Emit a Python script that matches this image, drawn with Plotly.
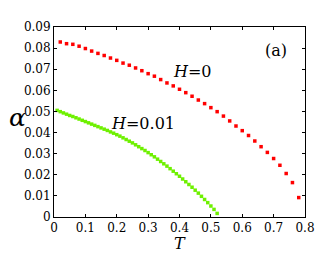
import plotly.graph_objects as go

# H = 0 series (red)
T_h0 = [0.02, 0.04, 0.06, 0.08, 0.10, 0.12, 0.14, 0.16, 0.18, 0.20,
        0.22, 0.24, 0.26, 0.28, 0.30, 0.32, 0.34, 0.36, 0.38, 0.40,
        0.42, 0.44, 0.46, 0.48, 0.50, 0.52, 0.54, 0.56, 0.58, 0.60,
        0.62, 0.64, 0.66, 0.68, 0.70, 0.72, 0.74, 0.76, 0.78]
alpha_h0 = [0.0829, 0.0821, 0.0818, 0.0809, 0.0798, 0.0786, 0.0775, 0.0765, 0.0753, 0.0742,
            0.0729, 0.0719, 0.0706, 0.0693, 0.0679, 0.0667, 0.0651, 0.0635, 0.0621, 0.0605,
            0.0589, 0.0572, 0.0554, 0.0537, 0.0518, 0.0499, 0.0478, 0.0455, 0.0431, 0.0409,
            0.0386, 0.0360, 0.0333, 0.0306, 0.0277, 0.0245, 0.0206, 0.0163, 0.0092]

# H = 0.01 series (green)
T_h001 = [0.01, 0.02, 0.03, 0.04, 0.05, 0.06, 0.07, 0.08, 0.09, 0.10,
          0.11, 0.12, 0.13, 0.14, 0.15, 0.16, 0.17, 0.18, 0.19, 0.20,
          0.21, 0.22, 0.23, 0.24, 0.25, 0.26, 0.27, 0.28, 0.29, 0.30,
          0.31, 0.32, 0.33, 0.34, 0.35, 0.36, 0.37, 0.38, 0.39, 0.40,
          0.41, 0.42, 0.43, 0.44, 0.45, 0.46, 0.47, 0.48, 0.49, 0.50,
          0.51, 0.52]
alpha_h001 = [0.0505, 0.0499, 0.0493, 0.0487, 0.0481, 0.0476, 0.0470, 0.0464, 0.0458, 0.0452,
              0.0446, 0.0440, 0.0434, 0.0428, 0.0422, 0.0416, 0.0410, 0.0403, 0.0397, 0.0390,
              0.0383, 0.0375, 0.0367, 0.0359, 0.0351, 0.0342, 0.0333, 0.0324, 0.0315, 0.0305,
              0.0295, 0.0285, 0.0274, 0.0263, 0.0252, 0.0241, 0.0229, 0.0217, 0.0205, 0.0193,
              0.0180, 0.0167, 0.0154, 0.0141, 0.0127, 0.0113, 0.0098, 0.0083, 0.0068, 0.0052,
              0.0036, 0.0017]

x_ticks = [0, 0.1, 0.2, 0.3, 0.4, 0.5, 0.6, 0.7, 0.8]
x_tick_labels = ["0", "0.1", "0.2", "0.3", "0.4", "0.5", "0.6", "0.7", "0.8"]
y_ticks = [0, 0.01, 0.02, 0.03, 0.04, 0.05, 0.06, 0.07, 0.08, 0.09]
y_tick_labels = ["0", "0.01", "0.02", "0.03", "0.04", "0.05", "0.06", "0.07", "0.08", "0.09"]

serif = "DejaVu Serif, Liberation Serif, serif"

fig = go.Figure()
fig.add_trace(go.Scatter(x=T_h0, y=alpha_h0, mode="markers",
                         marker=dict(symbol="square", size=3.5, color="#ff0000", line=dict(width=0)),
                         showlegend=False))
fig.add_trace(go.Scatter(x=T_h001, y=alpha_h001, mode="markers",
                         marker=dict(symbol="square", size=3.5, color="#6ef000", line=dict(width=0)),
                         showlegend=False))

axis_common = dict(showline=True, linecolor="black", linewidth=1, mirror="ticks",
                   ticks="inside", ticklen=3, tickcolor="black", showgrid=False,
                   zeroline=False, tickfont=dict(family=serif, size=12, color="black"))

fig.update_xaxes(range=[0, 0.8], tickvals=x_ticks, ticktext=x_tick_labels, **axis_common)
fig.update_yaxes(range=[0, 0.09], tickvals=y_ticks, ticktext=y_tick_labels, **axis_common)

fig.add_annotation(x=0.5, xref="paper", y=-0.142, yref="paper", yanchor="middle",
                   text="<i>T</i>", showarrow=False, borderpad=0,
                   font=dict(family=serif, size=16, color="black"))
fig.add_annotation(x=-0.185, xref="paper", y=0.525, yref="paper",
                   text="<i>α</i>", showarrow=False, borderpad=0,
                   font=dict(family=serif, size=25, color="black"))
fig.add_annotation(x=0.44, y=0.069, text="<i>H</i>=0", showarrow=False,
                   font=dict(family=serif, size=16, color="black"))
fig.add_annotation(x=0.285, y=0.0444, text="<i>H</i>=0.01", showarrow=False,
                   font=dict(family=serif, size=16, color="black"))
fig.add_annotation(x=0.708, y=0.079, text="(a)", showarrow=False,
                   font=dict(family=serif, size=16, color="black"))

fig.update_layout(width=327, height=253, margin=dict(l=54, r=16, t=27, b=36),
                  plot_bgcolor="white", paper_bgcolor="white")

fig.write_html("out.html", config={"displayModeBar": False},
               post_script="document.body.style.margin='0';")
